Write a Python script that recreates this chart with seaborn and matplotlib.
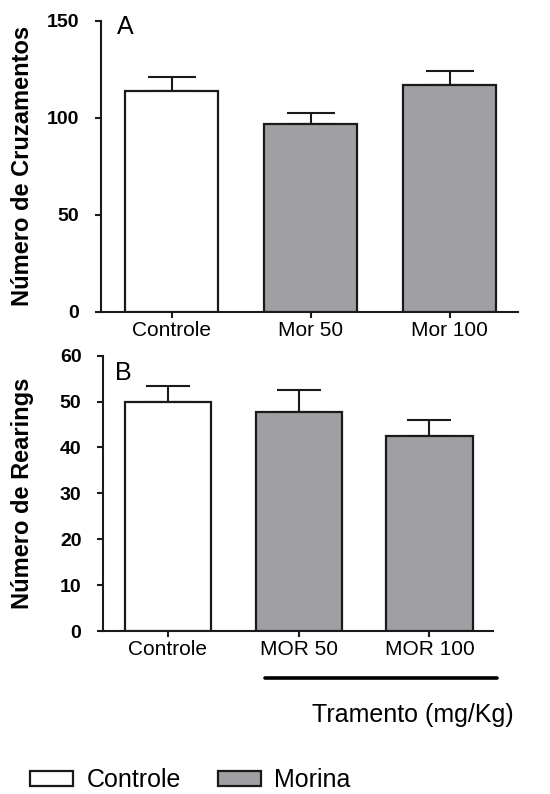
import matplotlib
matplotlib.use("Agg")
import matplotlib.pyplot as plt
import seaborn as sns
import pandas as pd
from matplotlib.patches import Patch
from matplotlib.lines import Line2D

# ---- data ----
cats_a = ["Controle", "Mor 50", "Mor 100"]
vals_a = [114, 97, 117]
errs_a = [7, 5.5, 7.2]

cats_b = ["Controle", "MOR 50", "MOR 100"]
vals_b = [50.0, 47.8, 42.6]
errs_b = [3.5, 4.8, 3.4]

groups = ["Controle", "Morina", "Morina"]
legend_labels = ["Controle", "Morina"]
yticks_a = [0, 50, 100, 150]
yticks_b = [0, 10, 20, 30, 40, 50, 60]

WHITE = "#ffffff"
GRAY = "#a0a0a4"
EDGE = "#1a1a1a"

sns.set_style("ticks")
plt.rcParams["font.family"] = ["Liberation Sans", "DejaVu Sans"]
plt.rcParams["text.color"] = "black"
plt.rcParams["xtick.color"] = "black"
plt.rcParams["ytick.color"] = "black"
plt.rcParams["axes.labelcolor"] = "black"

fig = plt.figure(figsize=(5.5, 7.94), dpi=100)
W, H = 550, 794

def px_axes(l, t, r, b):
    return fig.add_axes([l / W, 1 - b / H, (r - l) / W, (b - t) / H])

ax_a = px_axes(101, 20.7, 518, 312)
ax_b = px_axes(103, 355.7, 493, 631)

def draw(ax, cats, vals, errs, yticks, ylabel, xlim, width, cap):
    df = pd.DataFrame({"cat": cats, "val": vals, "grp": groups})
    pal = {c: (WHITE if g == "Controle" else GRAY) for c, g in zip(cats, groups)}
    sns.barplot(data=df, x="cat", y="val", hue="cat", palette=pal, dodge=False,
                edgecolor=EDGE, linewidth=1.6, width=width, errorbar=None,
                legend=False, ax=ax, zorder=3)
    ax.errorbar(x=range(len(cats)), y=vals, yerr=[[0] * len(errs), errs],
                fmt="none", ecolor=EDGE, elinewidth=1.5, capsize=cap,
                capthick=1.5, zorder=2)
    ax.set_ylim(yticks[0], yticks[-1])
    ax.set_yticks(yticks)
    ax.set_xlim(*xlim)
    ax.set_xlabel("")
    ax.set_ylabel(ylabel, fontsize=17, fontweight="bold")
    for s in ["top", "right"]:
        ax.spines[s].set_visible(False)
    for s in ["left", "bottom"]:
        ax.spines[s].set_linewidth(1.5)
        ax.spines[s].set_color(EDGE)
    ax.tick_params(axis="y", length=4.5, width=1.5, pad=11, labelsize=14,
                   color=EDGE)
    ax.tick_params(axis="x", length=4.5, width=1.5, pad=2, labelsize=15,
                   color=EDGE)
    for lbl in ax.get_yticklabels():
        lbl.set_fontweight("bold")

draw(ax_a, cats_a, vals_a, errs_a, yticks_a, "Número de Cruzamentos",
     (-0.507, 2.49), 0.67, 17)
draw(ax_b, cats_b, vals_b, errs_b, yticks_b, "Número de Rearings",
     (-0.497, 2.486), 0.66, 16)

ax_a.yaxis.set_label_coords((34 - 101) / 417, 0.5)
ax_b.yaxis.set_label_coords((34 - 103) / 390, 0.5)

fig.text(117 / W, 1 - 15 / H, "A", fontsize=18, ha="left", va="top")
fig.text(115 / W, 1 - 361 / H, "B", fontsize=18, ha="left", va="top")

fig.add_artist(Line2D([265 / W, 497 / W], [1 - 678 / H] * 2, color="black",
                      lw=2.6))
fig.text(413 / W, 1 - 715 / H, "Tramento (mg/Kg)", fontsize=18,
         ha="center", va="center")

handles = [Patch(facecolor=WHITE, edgecolor=EDGE, linewidth=1.6),
           Patch(facecolor=GRAY, edgecolor=EDGE, linewidth=1.6)]
fig.legend(handles, legend_labels, loc="center left",
           bbox_to_anchor=(30 / W, 1 - 780 / H), ncol=2, frameon=False,
           fontsize=18, handlelength=1.7, handleheight=0.55,
           handletextpad=0.55, columnspacing=1.5, borderpad=0,
           borderaxespad=0)

fig.savefig("out.png", dpi=100)
